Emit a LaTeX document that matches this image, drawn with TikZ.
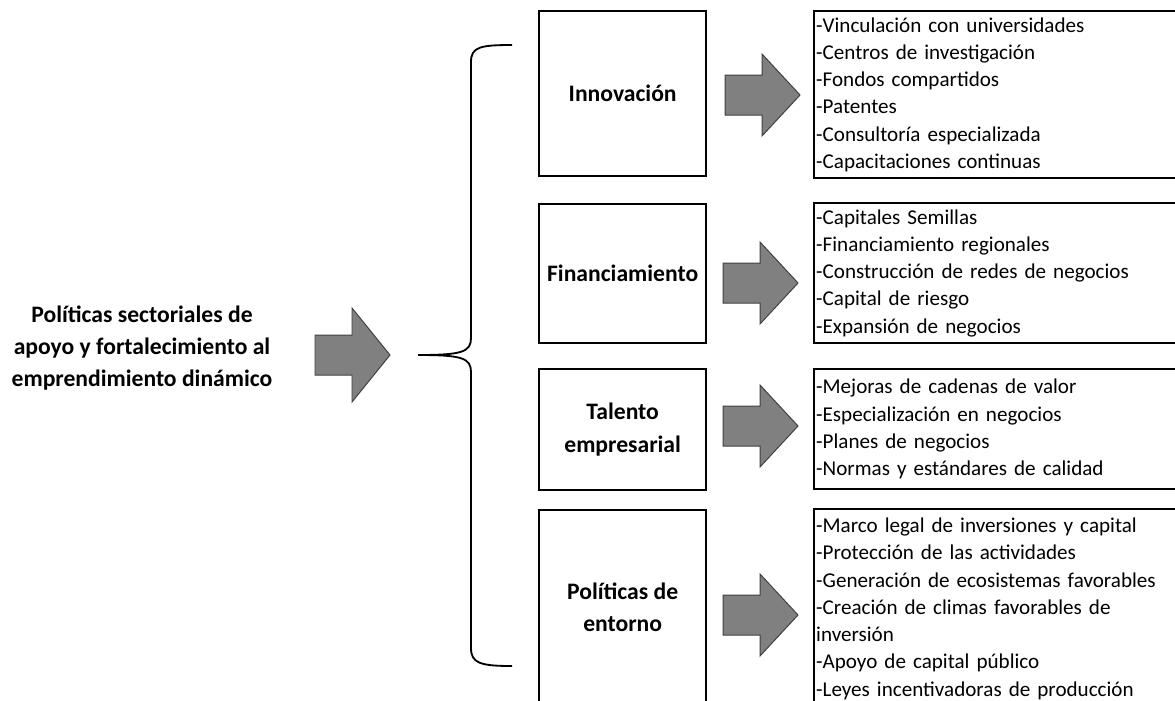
\documentclass[tikz,border=0pt]{standalone}
\usepackage{fontspec}
\setmainfont{Carlito}
\usetikzlibrary{positioning}

\tikzset{
  headfont/.style={font=\bfseries\fontsize{16.8}{23}\selectfont},
  catbox/.style={draw, line width=1.6pt, minimum width=4.175cm, headfont, align=center},
  listbox/.style={draw, line width=1.6pt, text width=9.1cm, inner xsep=1.5pt,
    align=left, font=\fontsize{15}{19.4}\selectfont},
  arrowfill/.style={fill=gray, draw=black!75, line width=0.7pt},
  bracestyle/.style={line width=1.3pt},
  fatarrow/.pic={
    \draw[arrowfill] (0,-20) -- (37,-20) -- (37,-#1) -- (75,0) -- (37,#1) -- (37,20) -- (0,20) -- cycle;
  }
}

\begin{document}
\begin{tikzpicture}[x=0.025cm, y=-0.025cm]

\clip (0,0) rectangle (1175,700);

% left title
\node[headfont, align=center] (goal) at (142,348)
  {Políticas sectoriales de\\apoyo y fortalecimiento al\\emprendimiento dinámico};
\pic at (315,355) {fatarrow=47};

% brace
\coordinate (btop) at (512,45);
\coordinate (btip) at (418,355);
\coordinate (bbot) at (512,666);
\draw[bracestyle] (btop) .. controls (480,45) and (471,47) .. (471,62) -- (471,338)
  .. controls (471,352) and (462,355) .. (btip)
  .. controls (462,355) and (471,358) .. (471,372) -- (471,648)
  .. controls (471,663) and (480,666) .. (bbot);

% categories
\node[catbox, minimum height=4.125cm, anchor=north west] (innov) at (538,10) {Innovación};
\node[catbox, minimum height=3.475cm, anchor=north west] (finan) at (538,203) {Financiamiento};
\node[catbox, minimum height=3.025cm, anchor=north west] (talent) at (538,368) {Talento\\empresarial};
\node[catbox, minimum height=4.85cm, anchor=north west] (entorno) at (538,509) {Políticas de\\entorno};

\pic at (725,95) {fatarrow=41};
\pic at (723,283) {fatarrow=41};
\pic at (723,426) {fatarrow=41};
\pic at (723,615) {fatarrow=41};

% lists
\node[listbox, minimum height=4.175cm, anchor=north west] (linnov) at (813,10)
  {-Vinculación con universidades\\-Centros de investigación\\-Fondos compartidos\\-Patentes\\-Consultoría especializada\\-Capacitaciones continuas};
\node[listbox, minimum height=3.5cm, anchor=north west] (lfinan) at (813,202)
  {-Capitales Semillas\\-Financiamiento regionales\\-Construcción de redes de negocios\\-Capital de riesgo\\-Expansión de negocios};
\node[listbox, minimum height=3cm, anchor=north west] (ltalent) at (813,368)
  {-Mejoras de cadenas de valor\\-Especialización en negocios\\-Planes de negocios\\-Normas y estándares de calidad};
\node[listbox, minimum height=4.975cm, anchor=north west] (lentorno) at (813,508)
  {-Marco legal de inversiones y capital\\-Protección de las actividades\\-Generación de ecosistemas favorables\\-Creación de climas favorables de\\inversión\\-Apoyo de capital público\\-Leyes incentivadoras de producción};

\end{tikzpicture}
\end{document}
